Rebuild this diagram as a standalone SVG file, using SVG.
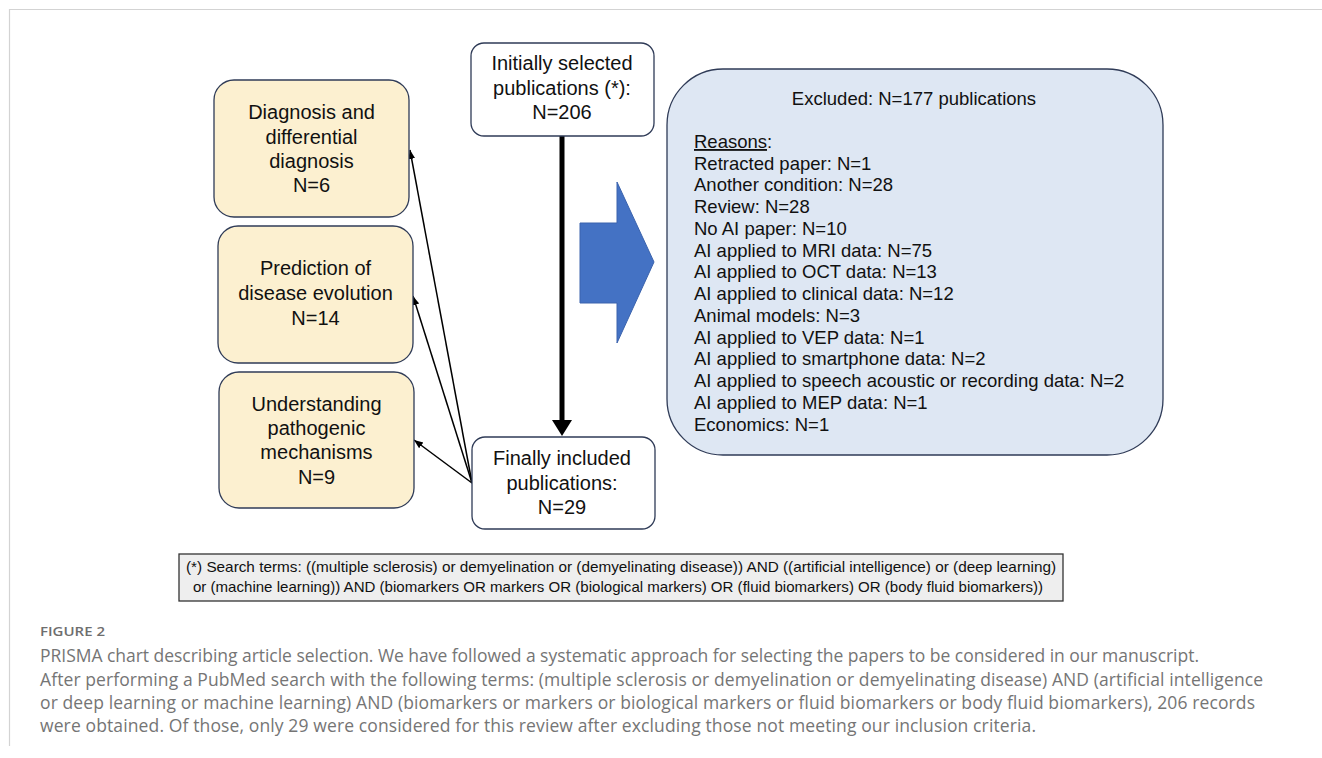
<svg xmlns="http://www.w3.org/2000/svg" width="1322" height="758" viewBox="0 0 1322 758">
<defs>
<style>
.box{fill:#ffffff;stroke:#2f3b57;stroke-width:1.3}
.ybox{fill:#fcf0d0;stroke:#2f3b57;stroke-width:1.3}
.bt{font-family:"Liberation Sans",Arial,sans-serif;font-size:20px;fill:#111;text-anchor:middle}
.lt{font-family:"Liberation Sans",Arial,sans-serif;font-size:18.5px;fill:#111}
.st{font-family:"Liberation Sans",Arial,sans-serif;font-size:14.5px;fill:#111;text-anchor:middle}
.cap{font-family:"Open Sans","Noto Sans",sans-serif;font-size:17.5px;fill:#757575}
.thin{stroke:#000;stroke-width:1.5;fill:none;marker-end:url(#ah)}
</style>
<marker id="ah" viewBox="0 0 10 10" refX="10" refY="5" markerWidth="6" markerHeight="6" markerUnits="strokeWidth" orient="auto">
<path d="M0,1 L10,5 L0,9 z" fill="#000"/>
</marker>
</defs>
<rect width="1322" height="758" fill="#fff"/>
<path d="M1322,9.5 H9.5 V746" fill="none" stroke="#d3d3d3" stroke-width="1.2"/>

<g id="connectors">
<line x1="562" y1="136" x2="562" y2="421" stroke="#000" stroke-width="5"/>
<path d="M552,420 L572,420 L562,436 z" fill="#000"/>
<line class="thin" x1="472" y1="483" x2="410" y2="150"/>
<line class="thin" x1="472" y1="483" x2="413" y2="296"/>
<line class="thin" x1="472" y1="483" x2="414" y2="440"/>
<polygon points="580,223 617,223 617,182 654,262 617,343 617,303 580,303" fill="#4472c4" stroke="#3b63ad" stroke-width="1"/>
</g>

<g id="initial">
<rect class="box" x="471" y="43" width="183" height="93" rx="13"/>
<text class="bt" x="562" y="70">Initially selected</text>
<text class="bt" x="562" y="95">publications (*):</text>
<text class="bt" x="562" y="119">N=206</text>
</g>

<g id="final">
<rect class="box" x="472" y="437" width="183" height="92" rx="13"/>
<text class="bt" x="562" y="465">Finally included</text>
<text class="bt" x="562" y="490">publications:</text>
<text class="bt" x="562" y="514">N=29</text>
</g>

<g id="diagnosis">
<rect class="ybox" x="214" y="80" width="195" height="137" rx="20"/>
<text class="bt" x="311.5" y="119">Diagnosis and</text>
<text class="bt" x="311.5" y="143.5">differential</text>
<text class="bt" x="311.5" y="168">diagnosis</text>
<text class="bt" x="311.5" y="192">N=6</text>
</g>

<g id="prediction">
<rect class="ybox" x="218" y="226" width="195" height="137" rx="20"/>
<text class="bt" x="315.5" y="275">Prediction of</text>
<text class="bt" x="315.5" y="300">disease evolution</text>
<text class="bt" x="315.5" y="325">N=14</text>
</g>

<g id="understanding">
<rect class="ybox" x="219" y="372" width="195" height="136" rx="20"/>
<text class="bt" x="316.5" y="411">Understanding</text>
<text class="bt" x="316.5" y="435">pathogenic</text>
<text class="bt" x="316.5" y="459">mechanisms</text>
<text class="bt" x="316.5" y="484">N=9</text>
</g>

<g id="excluded">
<rect x="667" y="69" width="496" height="386" rx="56" fill="#dee7f3" stroke="#2f3b57" stroke-width="1.3"/>
<text class="lt" x="914" y="104.5" text-anchor="middle">Excluded: N=177 publications</text>
<text class="lt" x="694" y="148"><tspan text-decoration="underline">Reasons</tspan>:</text>
<text class="lt" x="694" y="169.5">Retracted paper: N=1</text>
<text class="lt" x="694" y="191.3">Another condition: N=28</text>
<text class="lt" x="694" y="213">Review: N=28</text>
<text class="lt" x="694" y="234.8">No AI paper: N=10</text>
<text class="lt" x="694" y="256.5">AI applied to MRI data: N=75</text>
<text class="lt" x="694" y="278.3">AI applied to OCT data: N=13</text>
<text class="lt" x="694" y="300">AI applied to clinical data: N=12</text>
<text class="lt" x="694" y="321.8">Animal models: N=3</text>
<text class="lt" x="694" y="343.5">AI applied to VEP data: N=1</text>
<text class="lt" x="694" y="365.3">AI applied to smartphone data: N=2</text>
<text class="lt" x="694" y="387">AI applied to speech acoustic or recording data: N=2</text>
<text class="lt" x="694" y="408.8">AI applied to MEP data: N=1</text>
<text class="lt" x="694" y="430.5">Economics: N=1</text>
</g>

<g id="search">
<rect x="179" y="554" width="884" height="47" fill="#eeeeee" stroke="#333" stroke-width="1.3"/>
<text class="st" x="621" y="572" textLength="870" lengthAdjust="spacingAndGlyphs">(*) Search terms: ((multiple sclerosis) or demyelination or (demyelinating disease)) AND ((artificial intelligence) or (deep learning)</text>
<text class="st" x="618" y="592" textLength="850" lengthAdjust="spacingAndGlyphs">or (machine learning)) AND (biomarkers OR markers OR (biological markers) OR (fluid biomarkers) OR (body fluid biomarkers))</text>
</g>

<g id="caption">
<text x="40" y="636" font-family="'Open Sans','Noto Sans',sans-serif" font-size="13px" font-weight="600" fill="#6e6e6e" textLength="65" lengthAdjust="spacingAndGlyphs">FIGURE 2</text>
<text class="cap" x="40" y="662" textLength="1159" lengthAdjust="spacing">PRISMA chart describing article selection. We have followed a systematic approach for selecting the papers to be considered in our manuscript.</text>
<text class="cap" x="40" y="686" textLength="1223" lengthAdjust="spacing">After performing a PubMed search with the following terms: (multiple sclerosis or demyelination or demyelinating disease) AND (artificial intelligence</text>
<text class="cap" x="40" y="709" textLength="1215" lengthAdjust="spacing">or deep learning or machine learning) AND (biomarkers or markers or biological markers or fluid biomarkers or body fluid biomarkers), 206 records</text>
<text class="cap" x="40" y="732" textLength="996" lengthAdjust="spacing">were obtained. Of those, only 29 were considered for this review after excluding those not meeting our inclusion criteria.</text>
</g>
</svg>
